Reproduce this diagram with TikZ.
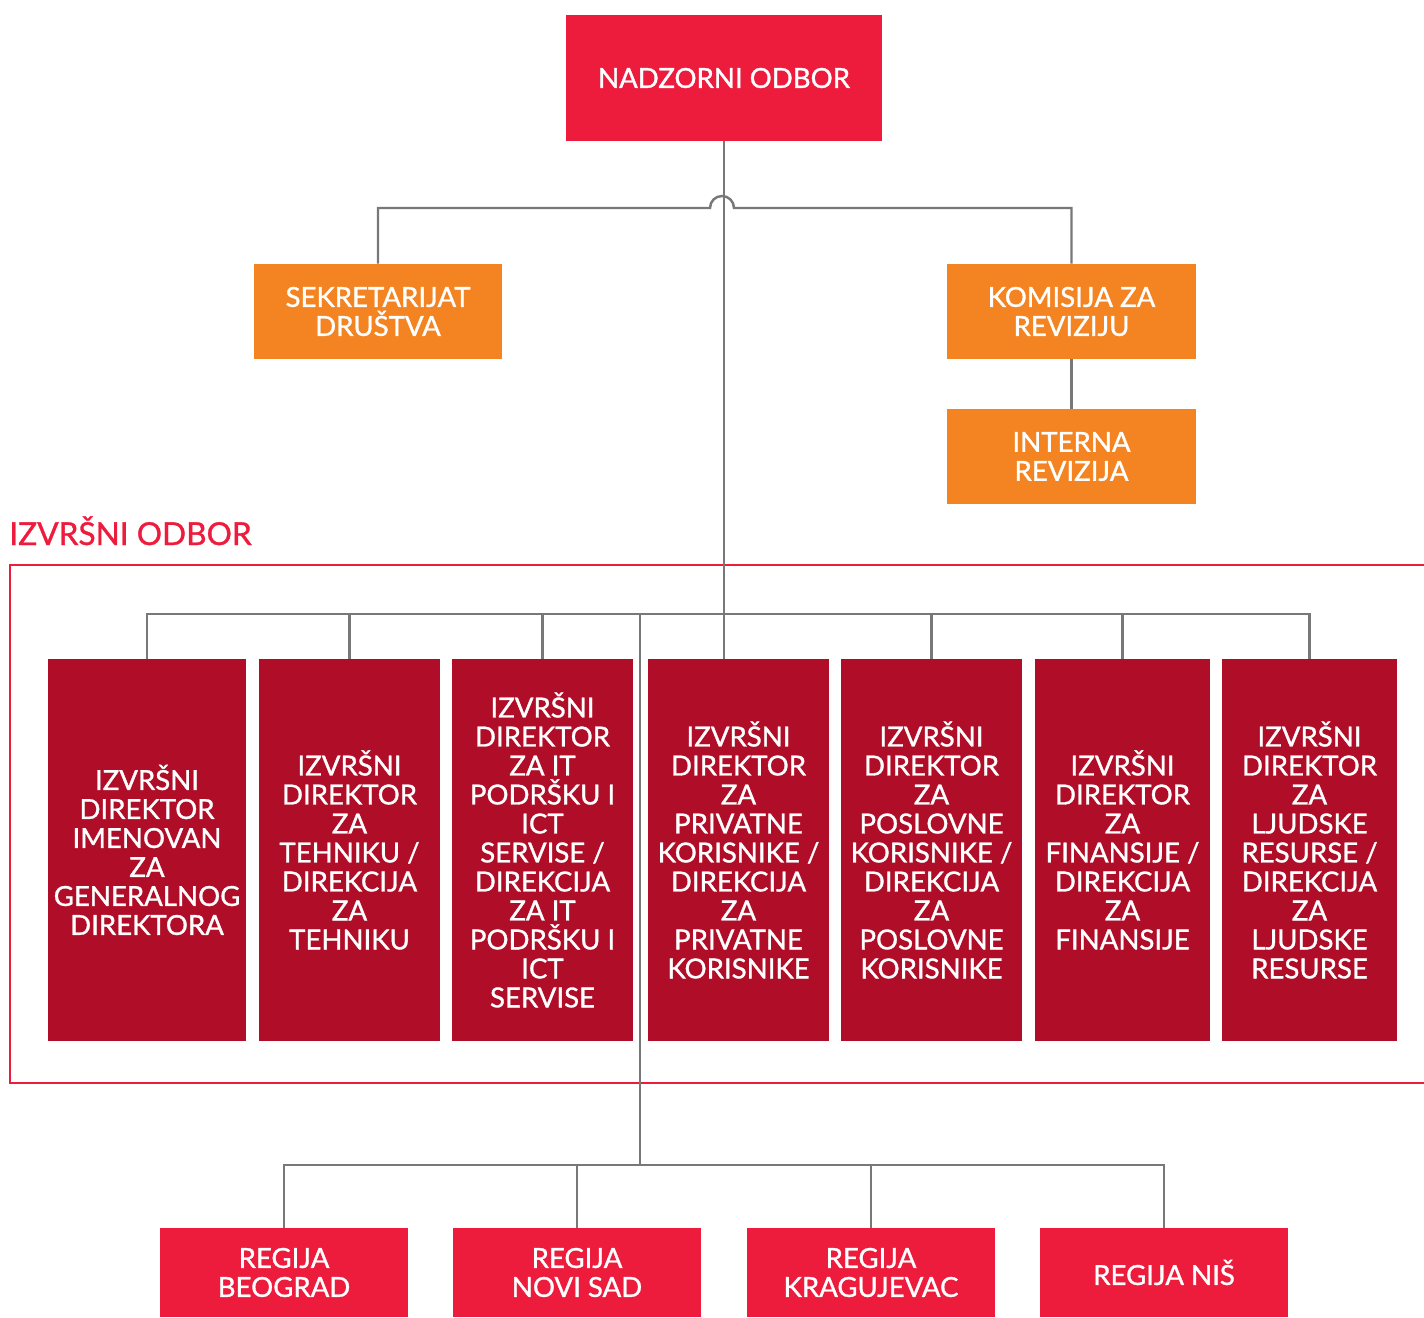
\documentclass[tikz,border=0pt]{standalone}
\usepackage{fontspec}
\setmainfont{Lato}[BoldFont=Lato, BoldFeatures={FakeBold=1.1}]
\usepackage{tikz}
\usetikzlibrary{calc,positioning}
\definecolor{nadred}{RGB}{237,28,61}
\definecolor{komorange}{RGB}{243,132,33}
\definecolor{dirred}{RGB}{176,14,40}
\definecolor{linegray}{RGB}{120,120,120}
\begin{document}
\begin{tikzpicture}[x=0.02cm, y=-0.02cm]
\tikzstyle{every node}=[inner sep=0pt, text=white, align=center,
                        font=\fontsize{15.7}{16.5}\selectfont\bfseries]
\tikzstyle{redbox}=[fill=nadred]
\tikzstyle{orangebox}=[fill=komorange, minimum width=4.98cm, minimum height=1.9cm]
\tikzstyle{dirbox}=[fill=dirred, minimum height=7.64cm]
\tikzstyle{regbox}=[fill=nadred, minimum width=4.96cm, minimum height=1.78cm]
\tikzstyle{link}=[draw=linegray, line width=1.4pt]
\useasboundingbox (0,0) rectangle (1424,1318);
% top
\node[redbox, minimum width=6.32cm, minimum height=2.52cm] (nad) at (724,78) {NADZORNI ODBOR};
\node[orangebox] (sek) at (378,311.5) {SEKRETARIJAT\\DRUŠTVA};
\node[orangebox] (kom) at (1071.5,311.5) {KOMISIJA ZA\\REVIZIJU};
\node[orangebox] (int) at (1071.5,456.5) {INTERNA\\REVIZIJA};
% izvrsni odbor
\node[text=nadred, anchor=base west, font=\fontsize{18}{18}\selectfont\bfseries] (iolabel) at (9,545) {IZVRŠNI ODBOR};
\draw[nadred, line width=1.3pt] (1440,565) -| (10,1083) -- (1440,1083);
\node[dirbox, minimum width=3.96cm] (d1) at (147,850) {IZVRŠNI\\DIREKTOR\\IMENOVAN\\ZA\\GENERALNOG\\DIREKTORA};
\node[dirbox, minimum width=3.62cm] (d2) at (349.5,850) {IZVRŠNI\\DIREKTOR\\ZA\\TEHNIKU /\\DIREKCIJA\\ZA\\TEHNIKU};
\node[dirbox, minimum width=3.62cm] (d3) at (542.5,850) {IZVRŠNI\\DIREKTOR\\ZA IT\\PODRŠKU I\\ICT\\SERVISE /\\DIREKCIJA\\ZA IT\\PODRŠKU I\\ICT\\SERVISE};
\node[dirbox, minimum width=3.62cm] (d4) at (738.5,850) {IZVRŠNI\\DIREKTOR\\ZA\\PRIVATNE\\KORISNIKE /\\DIREKCIJA\\ZA\\PRIVATNE\\KORISNIKE};
\node[dirbox, minimum width=3.62cm] (d5) at (931.5,850) {IZVRŠNI\\DIREKTOR\\ZA\\POSLOVNE\\KORISNIKE /\\DIREKCIJA\\ZA\\POSLOVNE\\KORISNIKE};
\node[dirbox, minimum width=3.5cm] (d6) at (1122.5,850) {IZVRŠNI\\DIREKTOR\\ZA\\FINANSIJE /\\DIREKCIJA\\ZA\\FINANSIJE};
\node[dirbox, minimum width=3.5cm] (d7) at (1309.5,850) {IZVRŠNI\\DIREKTOR\\ZA\\LJUDSKE\\RESURSE /\\DIREKCIJA\\ZA\\LJUDSKE\\RESURSE};
% regije
\node[regbox] (r1) at (284,1272.5) {REGIJA\\BEOGRAD};
\node[regbox] (r2) at (577,1272.5) {REGIJA\\NOVI SAD};
\node[regbox] (r3) at (871,1272.5) {REGIJA\\KRAGUJEVAC};
\node[regbox] (r4) at (1164,1272.5) {REGIJA NIŠ};
% connectors
\coordinate (jl) at (710,208);
\coordinate (barL) at (147,614);
\coordinate (split) at (640,614);
\coordinate (hub) at (640,1165);
\draw[link] (nad.south) -- (nad.south |- d4.north);
\draw[link] (sek.north) |- (jl) arc[start angle=180, end angle=0, radius=0.24cm] -| (kom.north);
\draw[link] (kom) -- (int);
\draw[link] (d1.north) |- (d7.north |- barL) -- (d7.north);
\foreach \i in {2,3,5,6}
  \draw[link] (d\i.north) -- (d\i.north |- barL);
\draw[link] (split) -- (hub);
\draw[link] (r1.north) |- (hub) -| (r4.north);
\foreach \i in {2,3}
  \draw[link] (r\i.north) -- (r\i.north |- hub);
\end{tikzpicture}
\end{document}
